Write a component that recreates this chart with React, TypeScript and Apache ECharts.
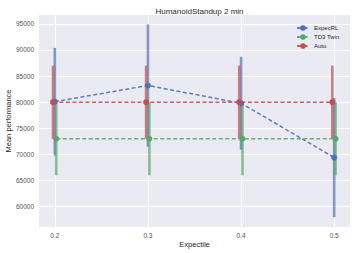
import React, { useEffect, useRef } from "react";
import * as echarts from "echarts";

const expectiles = [0.2, 0.3, 0.4, 0.5];
const xTickLabels = [0.2, 0.3, 0.4, 0.5];
const yTickValues = [60000, 65000, 70000, 75000, 80000, 85000, 90000, 95000];

const expecMean = [80100, 83200, 79800, 69400];
const expecErr = [10300, 11700, 8900, 11400];
const td3Mean = [73000, 73000, 73000, 73000];
const td3Err = [7000, 7000, 7000, 7000];
const autoMean = [80000, 80000, 80000, 80000];
const autoErr = [7000, 7000, 7000, 7000];

const seriesNames = ["ExpecRL", "TD3 Twin", "Auto"];
const seriesOffsets = [0, 0.0015, -0.002];

const COLORS = ["#4C72B0", "#55A868", "#C44E52"];
const FONT = "'Liberation Sans', Arial, sans-serif";

export default function App() {
  const ref = useRef<HTMLDivElement>(null);
  useEffect(() => {
    if (!ref.current) return;
    const chart = echarts.init(ref.current, undefined, { renderer: "svg" });
    const groups = [
      [expecMean, expecErr],
      [td3Mean, td3Err],
      [autoMean, autoErr],
    ];
    const series: any[] = [];
    groups.forEach(([mean, err], i) => {
      const off = seriesOffsets[i];
      const color = COLORS[i];
      series.push({
        type: "custom",
        silent: true,
        data: expectiles.map((x, j) => [x + off, mean[j] - err[j], mean[j] + err[j]]),
        encode: { x: 0, y: [1, 2] },
        renderItem: (params: any, api: any) => {
          const p1 = api.coord([api.value(0), api.value(1)]);
          const p2 = api.coord([api.value(0), api.value(2)]);
          return {
            type: "line",
            shape: { x1: p1[0], y1: p1[1], x2: p2[0], y2: p2[1] },
            style: { stroke: color, lineWidth: 2.6, opacity: 0.7 },
          };
        },
      });
      series.push({
        type: "line",
        name: seriesNames[i],
        data: expectiles.map((x, j) => [x + off, mean[j]]),
        symbol: "circle",
        symbolSize: 6,
        itemStyle: { color },
        lineStyle: { color, width: 1.5, type: [4, 2.5], opacity: 0.9 },
      });
    });
    chart.setOption({
      animation: false,
      backgroundColor: "#ffffff",
      textStyle: { fontFamily: FONT },
      title: {
        text: "HumanoidStandup 2 min",
        left: 194.5,
        textAlign: "center",
        top: 2,
        textStyle: { fontSize: 8, fontWeight: "normal", color: "#262626", fontFamily: FONT },
      },
      legend: {
        data: seriesNames,
        orient: "vertical",
        left: 291,
        top: 20,
        itemWidth: 12,
        itemHeight: 7,
        itemGap: 3,
        textStyle: { fontSize: 6, color: "#262626", fontFamily: FONT },
      },
      grid: {
        left: 39,
        top: 15,
        right: 4,
        bottom: 26,
        backgroundColor: "#EAEAF2",
        show: true,
        borderWidth: 0,
        containLabel: false,
        outerBoundsMode: "none",
      },
      xAxis: {
        type: "value",
        min: 0.183,
        max: 0.517,
        name: "Expectile",
        nameLocation: "middle",
        nameGap: 13,
        nameMoveOverlap: false,
        nameTextStyle: { fontSize: 7.5, color: "#262626", fontFamily: FONT },
        axisLine: { show: false },
        axisTick: { show: false, customValues: xTickLabels },
        axisLabel: {
          customValues: xTickLabels,
          formatter: (v: number) => String(v),
          fontSize: 6.5,
          color: "#555555",
          margin: 5,
          fontFamily: FONT,
        },
        splitLine: { show: true, lineStyle: { color: "#ffffff", width: 1 } },
      },
      yAxis: {
        type: "value",
        min: 56100,
        max: 96700,
        name: "Mean performance",
        nameLocation: "middle",
        nameGap: 27,
        nameMoveOverlap: false,
        nameTextStyle: { fontSize: 7.5, color: "#262626", fontFamily: FONT },
        axisLine: { show: false },
        axisTick: { show: false, customValues: yTickValues },
        axisLabel: {
          customValues: yTickValues,
          formatter: (v: number) => String(v),
          fontSize: 6.5,
          color: "#555555",
          margin: 5,
          fontFamily: FONT,
        },
        splitLine: { show: true, lineStyle: { color: "#ffffff", width: 1 } },
      },
      series,
    });
    return () => chart.dispose();
  }, []);
  return <div ref={ref} style={{ width: 354, height: 253, position: "absolute", left: 0, top: 0 }} />;
}
